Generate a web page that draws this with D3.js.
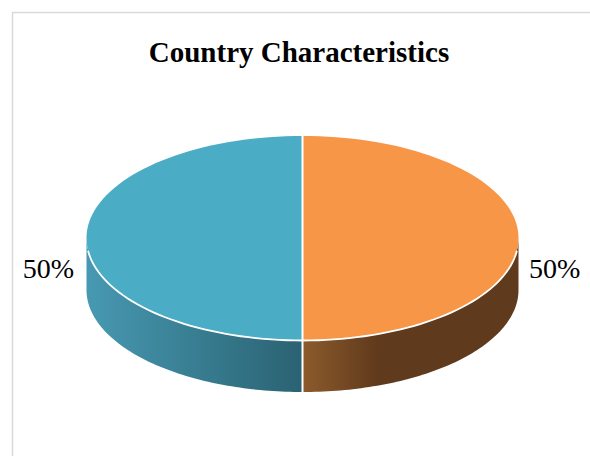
<!DOCTYPE html>
<html>
<head>
<meta charset="utf-8">
<script src="https://cdn.jsdelivr.net/npm/d3@7"></script>
<style>
  html, body { margin: 0; padding: 0; background: #fff; }
  svg { display: block; }
</style>
</head>
<body>
<svg id="chart" width="590" height="456"></svg>
<script>
const title = "Country Characteristics";
const categories = ["Category A", "Category B"];
const values = [50, 50];
const labels = ["50%", "50%"];
const topColors = ["#F79646", "#4BACC6"];
const sideLight = ["#8C5B2C", "#4799B2"];
const sideDark = ["#603A1C", "#2A6272"];

const svg = d3.select("#chart");

// frame
svg.append("rect").attr("x", 12.5).attr("y", 12.5).attr("width", 640).attr("height", 520)
  .attr("fill", "#fff").attr("stroke", "#D9D9D9").attr("stroke-width", 1.5);

svg.append("text").attr("x", 299).attr("y", 62).attr("text-anchor", "middle")
  .attr("font-family", "Liberation Serif, Times New Roman, serif").attr("font-weight", "bold")
  .attr("font-size", 29).attr("fill", "#000").text(title);

const cx = 302.5, cy = 238, rx = 216, ry = 102, depth = 52;
const sx = d3.scaleLinear().domain([-1, 1]).range([cx - rx, cx + rx]);
const sy = d3.scaleLinear().domain([-1, 1]).range([cy - ry, cy + ry]);
const pt = (a, dz = 0) => [sx(Math.sin(a)), sy(-Math.cos(a)) + dz];

const pie = d3.pie().sort(null).value(d => d)(values);

const defs = svg.append("defs");
pie.forEach((p, i) => {
  const g = defs.append("linearGradient").attr("id", "side" + i)
    .attr("gradientUnits", "userSpaceOnUse")
    .attr("x1", i === 0 ? cx : cx - rx).attr("x2", i === 0 ? cx + rx : cx)
    .attr("y1", 0).attr("y2", 0);
  if (i === 0) {
    g.append("stop").attr("offset", 0).attr("stop-color", sideLight[i]);
    g.append("stop").attr("offset", 0.35).attr("stop-color", sideDark[i]);
    g.append("stop").attr("offset", 1).attr("stop-color", sideDark[i]);
  } else {
    g.append("stop").attr("offset", 0).attr("stop-color", sideLight[i]);
    g.append("stop").attr("offset", 1).attr("stop-color", sideDark[i]);
  }
});

function arcPoints(a0, a1, dz) {
  const n = 80, out = [];
  for (let k = 0; k <= n; k++) out.push(pt(a0 + (a1 - a0) * k / n, dz));
  return out;
}

const line = d3.line();
// side walls (visible front half)
pie.forEach((p, i) => {
  const a0 = Math.max(p.startAngle, Math.PI / 2);
  const a1 = Math.min(p.endAngle, 3 * Math.PI / 2);
  if (a1 <= a0) return;
  const topPts = arcPoints(a0, a1, 0);
  const botPts = arcPoints(a1, a0, depth);
  svg.append("path").attr("d", line(topPts.concat(botPts)) + "Z")
    .attr("fill", `url(#side${i})`).attr("stroke", "none");
});
// vertical divider on the front wall
svg.append("line").attr("x1", pt(Math.PI)[0]).attr("x2", pt(Math.PI)[0])
  .attr("y1", pt(Math.PI)[1]).attr("y2", pt(Math.PI, depth)[1])
  .attr("stroke", "#fff").attr("stroke-width", 2);

// top faces
pie.forEach((p, i) => {
  const pts = [[cx, cy]].concat(arcPoints(p.startAngle, p.endAngle, 0));
  svg.append("path").attr("d", line(pts) + "Z")
    .attr("fill", topColors[i]).attr("stroke", "none");
});
// white rim along front edge
svg.append("path").attr("d", line(arcPoints(Math.PI / 2 + 0.12, 3 * Math.PI / 2 - 0.12, 0.5)))
  .attr("fill", "none").attr("stroke", "#fff").attr("stroke-width", 1.8);
// divider lines on top
pie.forEach(p => {
  const a = pt(p.startAngle);
  svg.append("line").attr("x1", cx).attr("y1", cy).attr("x2", a[0]).attr("y2", a[1])
    .attr("stroke", "#fff").attr("stroke-width", 2);
});

// labels
pie.forEach((p, i) => {
  const mid = (p.startAngle + p.endAngle) / 2;
  const right = Math.sin(mid) > 0;
  svg.append("text")
    .attr("x", right ? 529 : 74).attr("y", 278)
    .attr("text-anchor", right ? "start" : "end")
    .attr("font-family", "Liberation Serif, Times New Roman, serif")
    .attr("font-size", 28).attr("fill", "#000").text(labels[i]);
});
</script>
</body>
</html>
